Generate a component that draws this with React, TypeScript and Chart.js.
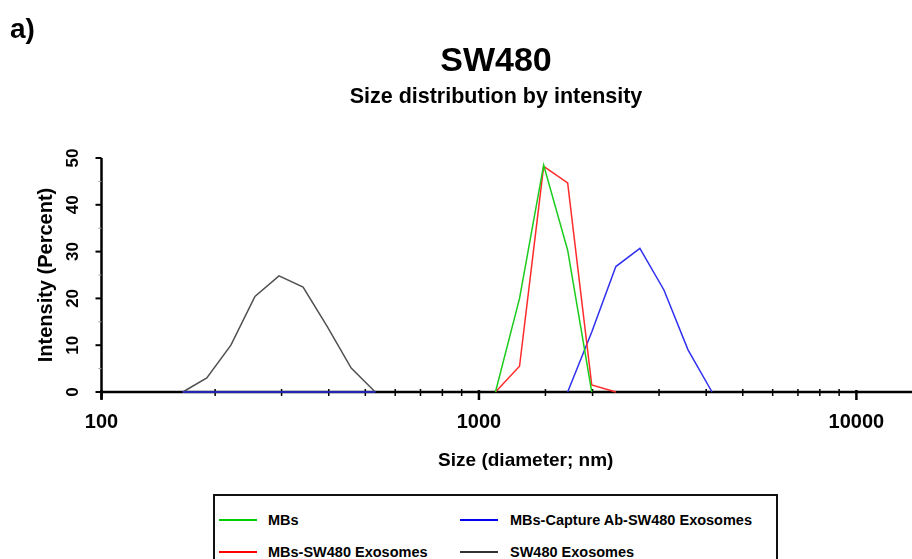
import React, { useEffect, useRef } from "react";
import { Chart, registerables } from "chart.js";

Chart.register(...registerables);

// Size bins (diameter, nm) shared by all records
const sizeBins = [164.2, 190.1, 220.2, 255.0, 295.3, 342.0, 396.1, 458.7, 531.2, 615.1, 712.4, 825.0, 955.4, 1106, 1281, 1484, 1718, 1990, 2305, 2669, 3091, 3580, 4145];

// Intensity (%) per bin, null where the record is not drawn
const mbsValues = [null, null, null, null, null, null, null, null, null, null, null, null, null, 0, 20, 48.5, 30.3, 0, null, null, null, null, null];
const mbsExoValues = [null, null, null, null, null, null, null, null, null, null, null, null, null, 0, 5.5, 48.2, 44.7, 1.5, 0, null, null, null, null];
const captureValues = [0, 0, 0, 0, 0, 0, 0, 0, 0, null, null, null, null, null, null, null, 0, 12.8, 26.8, 30.7, 21.8, 9.0, 0];
const exoValues = [0, 3.0, 10.0, 20.4, 24.8, 22.4, 14.0, 5.1, 0, null, null, null, null, null, null, null, null, null, null, null, null, null, null];

const seriesNames = ["MBs", "MBs-SW480 Exosomes", "MBs-Capture Ab-SW480 Exosomes", "SW480 Exosomes"];
const seriesColors = ["#1ccc1c", "#ff2a2a", "#2f2ff0", "#505050"];
const legendColors = ["#00cc00", "#ff0000", "#0000ee", "#333333"];

const xTickLabels = [100, 1000, 10000];
const X_MIN = 100;
const X_MAX = 17700;
const Y_MIN = 0;
const Y_MAX = 50;

const FONT = '"Liberation Sans", Arial, Helvetica, sans-serif';

const axisPlugin = {
  id: "axisTicks",
  beforeDatasetsDraw(chart: any) {
    const { ctx, chartArea } = chart;
    const xs = chart.scales.x;
    const ys = chart.scales.y;
    const y0 = ys.getPixelForValue(0);
    const yTop = ys.getPixelForValue(Y_MAX);
    const left = chartArea.left;
    ctx.save();
    ctx.strokeStyle = "#000";
    ctx.lineCap = "butt";
    // x axis line
    ctx.lineWidth = 2.5;
    ctx.beginPath();
    ctx.moveTo(left, y0);
    ctx.lineTo(chartArea.right, y0);
    ctx.stroke();
    // y axis line
    ctx.beginPath();
    ctx.moveTo(left, yTop);
    ctx.lineTo(left, y0 + 7);
    ctx.stroke();
    // y ticks
    ys.ticks.forEach((t: any) => {
      const py = ys.getPixelForValue(t.value);
      const major = Math.round(t.value) % 10 === 0;
      ctx.lineWidth = major ? 2 : 1;
      ctx.strokeStyle = major ? "#000" : "#999";
      ctx.beginPath();
      ctx.moveTo(left - (major ? 6 : 3), py);
      ctx.lineTo(left, py);
      ctx.stroke();
    });
    // x ticks
    xs.ticks.forEach((t: any) => {
      if (t.value < X_MIN || t.value > 10000) return;
      const px = xs.getPixelForValue(t.value);
      const major = xTickLabels.includes(t.value);
      ctx.strokeStyle = "#000";
      ctx.lineWidth = major ? 2.5 : 1.5;
      ctx.beginPath();
      if (major) {
        ctx.moveTo(px, y0 - 2);
        ctx.lineTo(px, y0 + 8);
      } else {
        ctx.moveTo(px, y0 - 3);
        ctx.lineTo(px, y0 + 4);
      }
      ctx.stroke();
    });
    ctx.restore();
  },
};

function toPoints(values: (number | null)[]) {
  return sizeBins.map((s, i) => ({ x: s, y: values[i] }));
}

export default function App() {
  const canvasRef = useRef<HTMLCanvasElement | null>(null);

  useEffect(() => {
    if (!canvasRef.current) return;
    const allValues = [mbsValues, mbsExoValues, captureValues, exoValues];
    const chart = new Chart(canvasRef.current, {
      type: "line",
      data: {
        datasets: allValues.map((vals, i) => ({
          label: seriesNames[i],
          data: toPoints(vals) as any,
          borderColor: seriesColors[i],
          backgroundColor: seriesColors[i],
          borderWidth: 1.5,
          pointRadius: 0,
          tension: 0,
          spanGaps: false,
          clip: false as any,
        })),
      },
      options: {
        responsive: false,
        animation: false,
        devicePixelRatio: 1,
        layout: { padding: { left: 0, right: 0, top: 158, bottom: 0 } },
        plugins: {
          legend: { display: false },
          title: { display: false },
          tooltip: { enabled: false },
        },
        scales: {
          x: {
            type: "logarithmic",
            min: X_MIN,
            max: X_MAX,
            afterFit: (s: any) => {
              s.height = 88;
              s.paddingLeft = 0;
              s.paddingRight = 0;
            },
            grid: { display: false, drawTicks: false },
            border: { display: false },
            ticks: {
              autoSkip: false,
              maxRotation: 0,
              minRotation: 0,
              padding: 18,
              color: "#000",
              font: { family: FONT, weight: "bold", size: 20 },
              callback: (v: any) => (xTickLabels.includes(Number(v)) ? String(v) : ""),
            },
            title: {
              display: true,
              text: "Size (diameter; nm)",
              color: "#000",
              font: { family: FONT, weight: "bold", size: 19 },
              padding: { top: 0, bottom: 8 },
            },
          },
          y: {
            min: Y_MIN,
            max: Y_MAX,
            afterFit: (s: any) => {
              s.width = 101.5;
              s.paddingTop = 0;
              s.paddingBottom = 0;
            },
            grid: { display: false, drawTicks: false },
            border: { display: false },
            ticks: {
              stepSize: 5,
              minRotation: 90,
              maxRotation: 90,
              crossAlign: "center",
              padding: 19,
              color: "#000",
              font: { family: FONT, weight: "bold", size: 17 },
              callback: (v: any) => (Number(v) % 10 === 0 ? String(v) : ""),
            },
            title: {
              display: true,
              text: "Intensity (Percent)",
              color: "#000",
              font: { family: FONT, weight: "bold", size: 20 },
              padding: { top: 34, bottom: 0 },
            },
          },
        },
      } as any,
      plugins: [axisPlugin],
    });
    return () => chart.destroy();
  }, []);

  const legendPos = [
    { lx: 219, tx: 268, cy: 520 },
    { lx: 219, tx: 268, cy: 552 },
    { lx: 460, tx: 510, cy: 520 },
    { lx: 460, tx: 510, cy: 552 },
  ];

  return (
    <div
      style={{
        position: "fixed",
        left: 0,
        top: 0,
        width: 912,
        height: 559,
        overflow: "hidden",
        background: "#fff",
        fontFamily: FONT,
        color: "#000",
      }}
    >
      <canvas ref={canvasRef} width={950} height={480} style={{ position: "absolute", left: 0, top: 0, width: 950, height: 480 }} />
      <div style={{ position: "absolute", left: 10, top: 15, fontSize: 28, lineHeight: "28px", fontWeight: "bold" }}>a)</div>
      <div style={{ position: "absolute", left: 296, width: 400, top: 42, fontSize: 34, lineHeight: "34px", fontWeight: "bold", textAlign: "center" }}>SW480</div>
      <div style={{ position: "absolute", left: 246, width: 500, top: 85, fontSize: 21.5, lineHeight: "22px", fontWeight: "bold", textAlign: "center" }}>
        Size distribution by intensity
      </div>
      <div style={{ position: "absolute", left: 213, top: 494, width: 561, height: 100, border: "2px solid #111" }} />
      {seriesNames.map((name, i) => (
        <React.Fragment key={name}>
          <div style={{ position: "absolute", left: legendPos[i].lx, top: legendPos[i].cy - 1, width: 38, height: 2, background: legendColors[i] }} />
          <div style={{ position: "absolute", left: legendPos[i].tx, top: legendPos[i].cy - 9, fontSize: 14.5, lineHeight: "18px", fontWeight: "bold", whiteSpace: "nowrap" }}>
            {name}
          </div>
        </React.Fragment>
      ))}
    </div>
  );
}
